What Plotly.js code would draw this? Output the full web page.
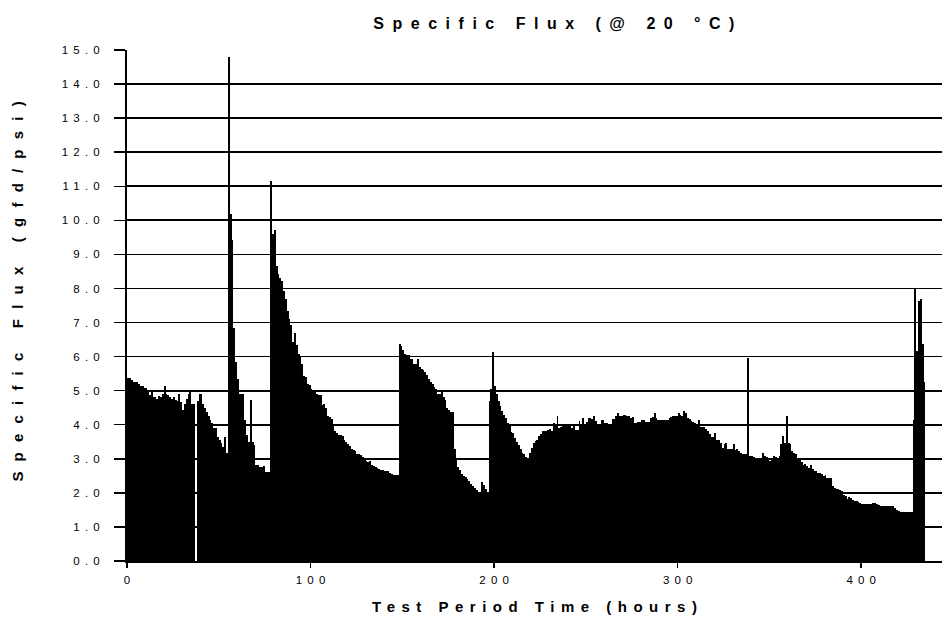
<!DOCTYPE html>
<html>
<head>
<meta charset="utf-8">
<script src="https://cdn.plot.ly/plotly-3.0.1.min.js"></script>
<style>
  html, body { margin: 0; padding: 0; background: #ffffff; }
  #chart { width: 942px; height: 619px; }
</style>
</head>
<body>
<div id="chart"></div>
<script>
// ---- data (hourly readings) ----
const startHour = 0;
const stepHours = 1;

const specificFlux = [
  5.37, 5.37, 5.31, 5.24, 5.24, 5.24, 5.20, 5.14, 5.14, 5.09,
  5.09, 4.99, 4.87, 4.95, 4.80, 4.80, 4.75, 4.85, 4.82, 4.90,
  5.14, 4.90, 4.88, 4.80, 4.75, 4.80, 4.72, 4.70, 4.90, 4.67,
  4.43, 4.60, 4.75, 4.90, 4.95, 4.60, 4.60, 0.00, 4.70, 4.90,
  4.90, 4.60, 4.50, 4.37, 4.25, 4.15, 4.05, 3.90, 3.90, 3.65,
  3.55, 3.46, 3.36, 3.65, 3.16, 14.78, 10.19, 9.41, 6.83, 5.84,
  5.34, 4.90, 4.90, 4.90, 4.15, 3.70, 3.50, 4.73, 3.50, 3.40,
  2.81, 2.81, 2.76, 2.76, 2.80, 2.61, 2.61, 2.61, 11.15, 9.61,
  9.71, 8.67, 8.42, 8.30, 8.22, 7.92, 7.68, 7.33, 7.10, 6.93,
  6.43, 6.68, 6.35, 6.09, 6.00, 5.79, 5.44, 5.40, 5.19, 5.16,
  5.04, 4.96, 4.96, 4.90, 4.86, 4.86, 4.57, 4.62, 4.50, 4.27,
  4.22, 4.18, 4.00, 3.83, 3.75, 3.69, 3.69, 3.67, 3.55, 3.49,
  3.44, 3.39, 3.30, 3.27, 3.22, 3.15, 3.15, 3.12, 3.05, 3.00,
  2.95, 2.90, 2.95, 2.82, 2.80, 2.75, 2.72, 2.70, 2.68, 2.66,
  2.64, 2.63, 2.63, 2.58, 2.56, 2.53, 2.52, 2.51, 6.38, 6.30,
  6.20, 6.09, 6.06, 6.04, 5.94, 5.94, 5.79, 5.79, 5.94, 5.70,
  5.65, 5.60, 5.55, 5.45, 5.35, 5.25, 5.20, 5.10, 5.05, 4.91,
  4.90, 5.00, 4.80, 4.72, 4.50, 4.42, 4.37, 4.37, 3.30, 3.00,
  2.75, 2.66, 2.56, 2.50, 2.46, 2.40, 2.36, 2.26, 2.20, 2.14,
  2.07, 1.97, 1.97, 2.33, 2.22, 2.12, 1.97, 4.70, 5.04, 6.14,
  5.14, 4.89, 4.70, 4.55, 4.40, 4.30, 4.20, 4.05, 3.96, 3.80,
  3.76, 3.62, 3.50, 3.40, 3.30, 3.18, 3.13, 3.05, 3.03, 3.18,
  3.32, 3.45, 3.52, 3.55, 3.67, 3.74, 3.81, 3.83, 3.83, 3.85,
  3.88, 3.83, 4.06, 3.96, 4.25, 3.91, 3.93, 3.96, 3.96, 3.95,
  3.98, 3.98, 3.90, 3.96, 3.86, 3.86, 4.10, 4.00, 4.20, 3.99,
  4.09, 4.19, 4.19, 4.16, 4.25, 4.12, 4.01, 4.01, 4.13, 4.13,
  4.06, 4.06, 4.03, 4.03, 4.16, 4.16, 4.25, 4.35, 4.25, 4.25,
  4.28, 4.28, 4.26, 4.26, 4.20, 4.22, 4.06, 4.06, 4.09, 4.09,
  4.13, 4.13, 4.09, 4.09, 4.09, 4.19, 4.23, 4.35, 4.20, 4.13,
  4.13, 4.13, 4.13, 4.13, 4.13, 4.19, 4.23, 4.25, 4.25, 4.25,
  4.35, 4.28, 4.25, 4.40, 4.35, 4.20, 4.18, 4.11, 4.09, 4.05,
  4.03, 4.14, 3.93, 3.93, 3.93, 3.88, 3.81, 3.72, 3.64, 3.64,
  3.76, 3.54, 3.54, 3.47, 3.32, 3.44, 3.47, 3.30, 3.30, 3.30,
  3.42, 3.27, 3.30, 3.23, 3.18, 3.15, 3.13, 3.13, 5.97, 3.08,
  3.08, 3.06, 3.03, 3.02, 3.01, 3.01, 3.18, 3.08, 3.05, 3.03,
  2.93, 3.03, 3.08, 3.06, 3.03, 3.08, 3.42, 3.67, 3.47, 4.25,
  3.47, 3.42, 3.23, 3.18, 3.13, 3.03, 2.98, 2.90, 2.83, 2.85,
  2.80, 2.74, 2.83, 2.69, 2.64, 2.64, 2.59, 2.57, 2.54, 2.49,
  2.52, 2.44, 2.44, 2.44, 2.20, 2.15, 2.12, 2.10, 2.07, 2.05,
  1.95, 1.90, 1.83, 1.87, 1.85, 1.80, 1.77, 1.77, 1.74, 1.71,
  1.68, 1.68, 1.68, 1.68, 1.68, 1.68, 1.71, 1.70, 1.66, 1.63,
  1.61, 1.61, 1.61, 1.61, 1.61, 1.61, 1.61, 1.61, 1.55, 1.51,
  1.48, 1.45, 1.43, 1.43, 1.43, 1.43, 1.43, 1.43, 4.13, 8.00,
  6.17, 7.63, 7.68, 6.37, 5.24
];

const hours = specificFlux.map((_, i) => startHour + i * stepHours);

const xTickVals = [0, 100, 200, 300, 400];
const xTickText = ['0', '100', '200', '300', '400'];
const yTickVals = [0, 1, 2, 3, 4, 5, 6, 7, 8, 9, 10, 11, 12, 13, 14, 15];

const chartTitle = 'Specific Flux (@ 20 °C)';
const xTitle = 'Test Period Time (hours)';
const yTitle = 'Specific Flux (gfd/psi)';

// ---- chart ----
const FONT = 'Liberation Sans, Arial, Helvetica, sans-serif';

const trace = {
  type: 'bar',
  x: hours,
  y: specificFlux,
  width: stepHours,
  offset: 0,
  marker: { color: '#000000', line: { width: 0 } },
  hoverinfo: 'skip'
};

const layout = {
  width: 942,
  height: 619,
  margin: { l: 127, r: 0, t: 50, b: 58, pad: 0 },
  paper_bgcolor: '#ffffff',
  plot_bgcolor: '#ffffff',
  bargap: 0,
  showlegend: false,
  font: { family: FONT, color: '#000000', size: 11.5 },
  title: {
    text: chartTitle,
    font: { family: FONT, size: 16, weight: 'bold', color: '#000000' },
    xref: 'container', yref: 'container',
    x: 0.588, xanchor: 'center',
    y: 0.962, yanchor: 'middle'
  },
  xaxis: {
    range: [0, 444],
    tickmode: 'array',
    tickvals: xTickVals,
    ticktext: xTickText,
    ticks: 'outside',
    ticklen: 5,
    tickwidth: 1.5,
    tickcolor: '#000000',
    showline: true,
    linecolor: '#000000',
    linewidth: 1.5,
    showgrid: false,
    zeroline: false,
    tickfont: { family: FONT, size: 11.5, color: '#000000' },
    ticklabelstandoff: 3,
    title: {
      text: xTitle,
      font: { family: FONT, size: 15, weight: 'bold', color: '#000000' },
      standoff: 16
    },
    fixedrange: true
  },
  yaxis: {
    range: [0, 15],
    tickmode: 'array',
    tickvals: yTickVals,
    tickformat: '.1f',
    ticks: 'outside',
    ticklen: 11,
    tickwidth: 1.5,
    tickcolor: '#000000',
    showline: true,
    linecolor: '#000000',
    linewidth: 2,
    showgrid: true,
    gridcolor: '#000000',
    gridwidth: 1.7,
    zeroline: false,
    tickfont: { family: FONT, size: 11.5, color: '#000000' },
    ticklabelstandoff: 12,
    title: {
      text: yTitle,
      font: { family: FONT, size: 15, weight: 'bold', color: '#000000' },
      standoff: 50
    },
    fixedrange: true
  }
};

// letter-spaced text, as in the reference; extra shifts the run along its own direction
function spaceLetters(gd, selector, ls, extra) {
  gd.querySelectorAll(selector).forEach(function (t) {
    t.style.letterSpacing = ls + 'px';
    const a = t.getAttribute('text-anchor') || 'start';
    const shift = a === 'middle' ? ls / 2 : (a === 'end' ? ls : 0);
    t.setAttribute('dx', shift + (extra || 0));
  });
}

Plotly.newPlot('chart', [trace], layout, { staticPlot: true, displayModeBar: false })
  .then(function (gd) {
    spaceLetters(gd, '.xtick text', 5.2);
    spaceLetters(gd, '.ytick text', 5.2);
    spaceLetters(gd, '.gtitle', 8.5);
    spaceLetters(gd, '.xtitle', 6.5);
    spaceLetters(gd, '.ytitle', 10.2, 14);
  });
</script>
</body>
</html>
